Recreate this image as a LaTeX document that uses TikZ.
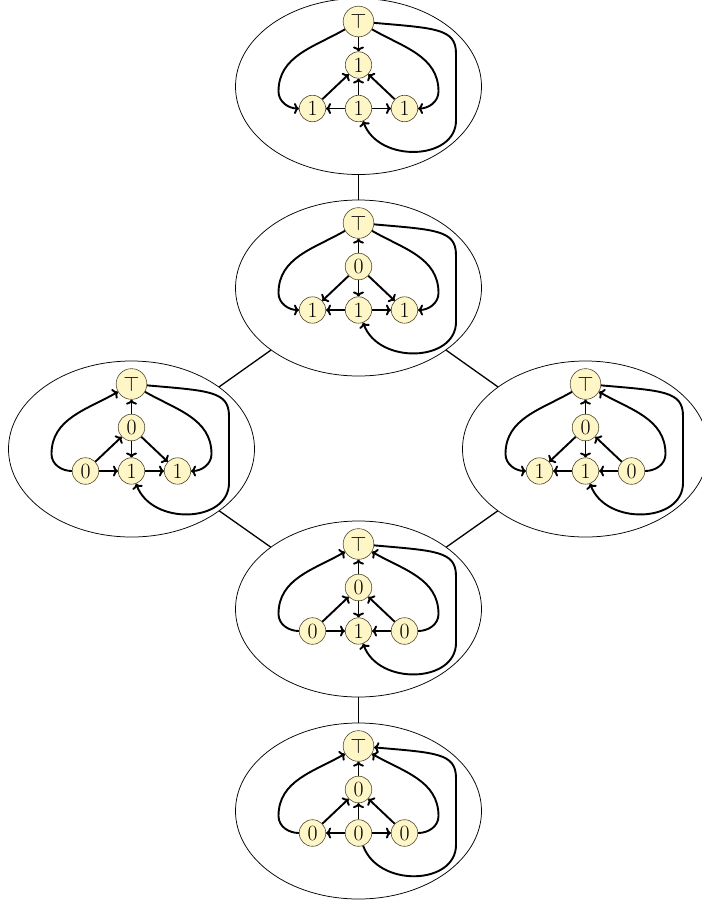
\documentclass[tikz,border=0pt]{standalone}
\usepackage{fontspec}
\usetikzlibrary{shapes.geometric,calc,arrows.meta}
\definecolor{vfill}{RGB}{255,246,199}
\definecolor{vline}{RGB}{80,72,45}
\tikzset{
 ell/.style={draw, ellipse, minimum width=246pt, minimum height=176pt, inner sep=0pt, outer sep=0pt, line width=0.75pt},
 vtx/.style={circle, draw=vline, fill=vfill, line width=0.6pt, inner sep=3.2pt, font=\fontsize{21.7}{26}\selectfont},
 edge/.style={line width=1.9pt, >={Computer Modern Rightarrow[length=5pt,width=11pt]}},
 conn/.style={line width=1.3pt},
}
\newcommand\ed[5]{\ifnum#1>#2\relax\draw[edge,<-] (#3) #4 (#5);\else\draw[edge,->] (#3) #4 (#5);\fi}
\newcommand\grp[7]{%
 \node[ell] (#1) at (#2,#3) {};
 \node[vtx] (#1T) at (#2,#3+65) {$\top$};
 \node[vtx] (#1M) at (#2,#3+21.5) {#4};
 \node[vtx] (#1L) at (#2-46,#3-22) {#5};
 \node[vtx] (#1C) at (#2,#3-22) {#6};
 \node[vtx] (#1R) at (#2+46,#3-22) {#7};
 \ed{1}{#4}{#1T}{--}{#1M}
 \ed{1}{#5}{#1T}{to[out=210,in=90] ($(#1C)+(-80,17)$) to[out=-90,in=180]}{#1L}
 \ed{1}{#7}{#1T}{to[out=-30,in=90] ($(#1C)+(80,17)$) to[out=-90,in=0]}{#1R}
 \ed{1}{#6}{#1T.-5}{to[out=-5,in=90,out distance=62pt,in distance=25pt] ($(#1C)+(97.5,55)$) -- ($(#1C)+(97.5,-12)$) to[out=-90,in=-70,out distance=40pt,in distance=45pt]}{#1C}
 \ed{#6}{#5}{#1C}{--}{#1L}
 \ed{#6}{#7}{#1C}{--}{#1R}
 \ed{#6}{#4}{#1C}{--}{#1M}
 \ed{#5}{#4}{#1L}{--}{#1M}
 \ed{#7}{#4}{#1R}{--}{#1M}
}
\begin{document}
\begin{tikzpicture}[x=1pt,y=1pt]
\useasboundingbox (0,0) rectangle (702,-906);
\grp{a}{358.5}{-86.5}{1}{1}{1}{1}
\grp{b}{358.5}{-288}{0}{1}{1}{1}
\grp{c}{131.5}{-449}{0}{0}{1}{1}
\grp{d}{585.5}{-449}{0}{1}{1}{0}
\grp{e}{358.5}{-609}{0}{0}{1}{0}
\grp{f}{358.5}{-811}{0}{0}{0}{0}
\draw[conn] (a) -- (b);
\draw[conn] (b) -- (c);
\draw[conn] (b) -- (d);
\draw[conn] (c) -- (e);
\draw[conn] (d) -- (e);
\draw[conn] (e) -- (f);
\end{tikzpicture}
\end{document}
